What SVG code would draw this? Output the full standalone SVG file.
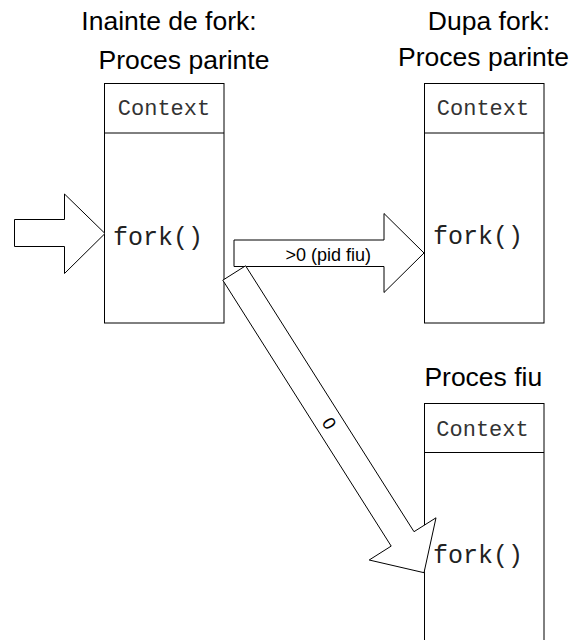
<svg xmlns="http://www.w3.org/2000/svg" width="571" height="640" viewBox="0 0 571 640">
<style>
.bg{fill:#ffffff}
.box{fill:#ffffff;stroke:#000000;stroke-width:1}
.title{font-family:"Liberation Sans",Arial,sans-serif;font-size:26.5px;fill:#000000;text-anchor:middle}
.ctx{font-family:"Liberation Mono","Courier New",monospace;font-size:22px;fill:#333333;text-anchor:middle}
.code{font-family:"Liberation Mono","Courier New",monospace;font-size:25px;fill:#222222}
.arrow{fill:#ffffff;stroke:#000000;stroke-width:1;stroke-linejoin:miter}
.lbl{font-family:"Liberation Sans",Arial,sans-serif;font-size:18px;fill:#000000;text-anchor:middle}
</style>
<rect class="bg" x="0" y="0" width="571" height="640"/>

<g id="titles">
<text class="title" x="169" y="29.5">Inainte de fork:</text>
<text class="title" x="489" y="30">Dupa fork:</text>
</g>

<g id="parent-before">
<text class="title" x="184" y="68.5">Proces parinte</text>
<rect class="box" x="104.5" y="83.5" width="119.5" height="239.5"/>
<line class="box" x1="104.5" y1="133" x2="224" y2="133"/>
<text class="ctx" x="164" y="115">Context</text>
<text class="code" x="113" y="245">fork()</text>
</g>

<g id="parent-after">
<text class="title" x="483.5" y="66">Proces parinte</text>
<rect class="box" x="424.5" y="83.5" width="119.5" height="239.5"/>
<line class="box" x1="424.5" y1="133" x2="544" y2="133"/>
<text class="ctx" x="483" y="115">Context</text>
<text class="code" x="433" y="244">fork()</text>
</g>

<g id="child">
<text class="title" x="483.3" y="386">Proces fiu</text>
<rect class="box" x="424.5" y="403.5" width="119.5" height="260"/>
<line class="box" x1="424.5" y1="452.5" x2="544" y2="452.5"/>
<text class="ctx" x="482.5" y="436">Context</text>
<text class="code" x="433" y="563">fork()</text>
</g>

<g id="connectors">
<polygon class="arrow" points="14.5,219.5 64.5,219.5 64.5,194 105,233.5 64.5,273.5 64.5,246.5 14.5,246.5"/>
<polygon class="arrow" points="234,240 384,240 384,213.5 424,253 384,292.5 384,266.5 234,266.5"/>
<text class="lbl" x="328.3" y="261">&gt;0 (pid fiu)</text>
<polygon class="arrow" points="245.6,265.8 414,531.7 436,517.8 424,572.7 369.2,560 391.2,546.1 222.8,280.2"/>
<text class="lbl" transform="translate(329.3,423.3) rotate(57.7)" x="0" y="6.3">0</text>
</g>
</svg>
